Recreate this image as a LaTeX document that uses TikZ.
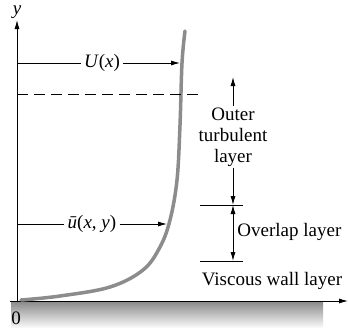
\documentclass[tikz,border=0pt]{standalone}
\usepackage{fontspec}
\setmainfont{Liberation Serif}
\usetikzlibrary{arrows.meta}

\tikzset{
  lbl/.style={font=\fontsize{19}{21}\selectfont, inner sep=1pt},
  arr/.style={-{Latex[length=9pt,width=5pt]}, line width=0.9pt},
}

\begin{document}
\begin{tikzpicture}[x=1pt,y=-1pt,line width=0.9pt]
  \useasboundingbox (0,0) rectangle (348,330);

  % wall
  \shade[top color=black!45, bottom color=black!3] (11,302) rectangle (323,327);
  \coordinate (xs) at (10,301);
  \coordinate (xe) at (348,301);
  \draw[arr] (xs) -- (xe);
  \coordinate (ys) at (17,301);
  \node[lbl, inner sep=0pt] (ylab) at (17,12) {\textit{y}};
  \draw[arr] (ys) -- (ylab.south |- 0,20);
  \node[lbl] (zero) at (16,318) {0};

  % velocity profile
  \draw[black!45, line width=3.5pt, line cap=round]
    plot[smooth, tension=0.6] coordinates {(21,300) (60,296) (110,287) (143,270)
      (160,247) (170,220) (177,180) (180,125) (182,63) (185,31)};

  % free stream
  \node[lbl, inner sep=3pt] (U) at (102,63) {\textit{U}(\textit{x})};
  \coordinate (Ua) at (17,63);
  \coordinate (Ub) at (180,63);
  \draw (Ua) -- (U.west);
  \draw[arr] (U.east) -- (Ub);
  \coordinate (da) at (17,94);
  \coordinate (db) at (203,94);
  \draw[dashed, dash pattern=on 11pt off 6pt] (da) -- (db);

  % mean velocity
  \node[lbl, inner sep=3pt] (ubar) at (92,224) {\textit{ū}(\textit{x}, \textit{y})};
  \coordinate (ua) at (17,224);
  \coordinate (ub) at (167,224);
  \draw (ua) -- (ubar.west);
  \draw[arr] (ubar.east) -- (ub);

  % layers
  \node[lbl, align=center] (outer) at (233,137) {Outer\\turbulent\\layer};
  \coordinate (oa) at (233,77);
  \coordinate (ob) at (233,205);
  \draw[arr] (outer.north) -- (oa);
  \draw[arr] (outer.south) -- (ob);
  \coordinate (t1a) at (200,205);
  \coordinate (t1b) at (243,205);
  \coordinate (t2a) at (200,261);
  \coordinate (t2b) at (243,261);
  \draw (t1a) -- (t1b);
  \draw (t2a) -- (t2b);
  \coordinate (la) at (233,205);
  \coordinate (lb) at (233,261);
  \draw[arr, {Latex[length=9pt,width=5pt]}-{Latex[length=9pt,width=5pt]}] (la) -- (lb);
  \node[lbl, anchor=west] (overlap) at (236,232) {Overlap layer};
  \node[lbl] (visc) at (272,281) {Viscous wall layer};
\end{tikzpicture}
\end{document}
